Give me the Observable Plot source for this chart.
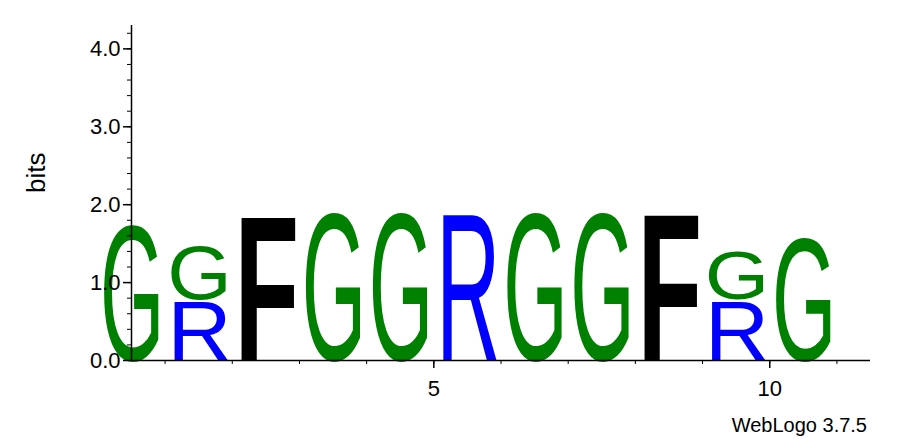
<!DOCTYPE html>
<html><head>
<script src="https://cdn.jsdelivr.net/npm/d3@7"></script>
<script src="https://cdn.jsdelivr.net/npm/@observablehq/plot@0.6"></script>
<style>body{margin:0;background:#fff}#c{position:relative;width:897px;height:444px}
#wl{position:absolute;right:30px;top:414px;font:20px "Liberation Sans",Arial,sans-serif}</style>
</head><body><div id="c"></div>
<script>
const positions = [1,2,2,3,4,5,6,7,8,9,10,10,11];
const letters   = ["G","R","G","F","G","G","R","G","G","F","R","G","G"];
const bottoms   = [0,0,0.78,0,0,0,0,0,0,0,0,0.78,0];
const heights   = [1.78,0.77,0.70,1.9,1.93,1.93,1.93,1.93,1.93,1.93,0.77,0.64,1.62];
const colorMap = {G:"green", R:"blue", F:"black"};
const yMajor = [0,1,2,3,4];
const yMinor = d3.range(0, 4.31, 0.2);
const xMajor = [5,10];
const xMinor = d3.range(1, 12);

const data = positions.map((p,i)=>({p, l:letters[i], b:bottoms[i], h:heights[i]}));

function glyphs(index, scales) {
  const g = document.createElementNS("http://www.w3.org/2000/svg","g");
  for (const d of data) {
    const x0 = scales.x(d.p - 0.48), x1 = scales.x(d.p + 0.48);
    const yb = scales.y(d.b), yt = scales.y(d.b + d.h);
    const hpx = yb - yt, wpx = x1 - x0;
    const t = document.createElementNS("http://www.w3.org/2000/svg","text");
    const fs = 100, cap = 0.72*fs;
    t.setAttribute("x", 0); t.setAttribute("y", 0);
    t.setAttribute("font-size", fs);
    t.setAttribute("font-family", "Liberation Sans, Arial, sans-serif");
    t.setAttribute("font-weight", d.l === "F" ? "bold" : "normal");
    t.setAttribute("fill", colorMap[d.l]);
    t.setAttribute("textLength", fs*0.7);
    t.setAttribute("lengthAdjust", "spacingAndGlyphs");
    t.setAttribute("transform", `translate(${x0},${yb}) scale(${wpx/(fs*0.7)},${hpx/cap})`);
    t.textContent = d.l;
    g.appendChild(t);
  }
  return g;
}

const plot = Plot.plot({
  width: 897, height: 444,
  marginLeft: 131, marginRight: 27, marginTop: 25, marginBottom: 84,
  x: {domain: [0.5, 11.5]},
  y: {domain: [0, 4.3]},
  style: {fontFamily: "Liberation Sans, Arial, sans-serif", color: "black"},
  marks: [
    glyphs,
    Plot.axisY(yMajor, {tickSize: 8, tickFormat: d3.format(".1f"), fontSize: 22, tickPadding: 3, strokeWidth: 1.5}),
    Plot.axisY(yMinor, {tickSize: 4, tickFormat: () => ""}),
    Plot.axisX(xMajor, {tickSize: 8, fontSize: 22, tickPadding: 12, strokeWidth: 1.5}),
    Plot.axisX(xMinor, {tickSize: 4, tickFormat: () => ""}),
    Plot.ruleX([0.5], {y1: 0, y2: 4.3, strokeWidth: 1.5}),
    Plot.ruleY([0], {x1: 0.5, x2: 11.5, strokeWidth: 1.5}),
    Plot.text(["bits"], {frameAnchor: "left", dx: -95, rotate: -90, fontSize: 26, y: 2.15})
  ]
});
document.getElementById("c").appendChild(plot);
const wl = document.createElement("div"); wl.id="wl"; wl.textContent="WebLogo 3.7.5";
document.getElementById("c").appendChild(wl);
</script></body></html>
